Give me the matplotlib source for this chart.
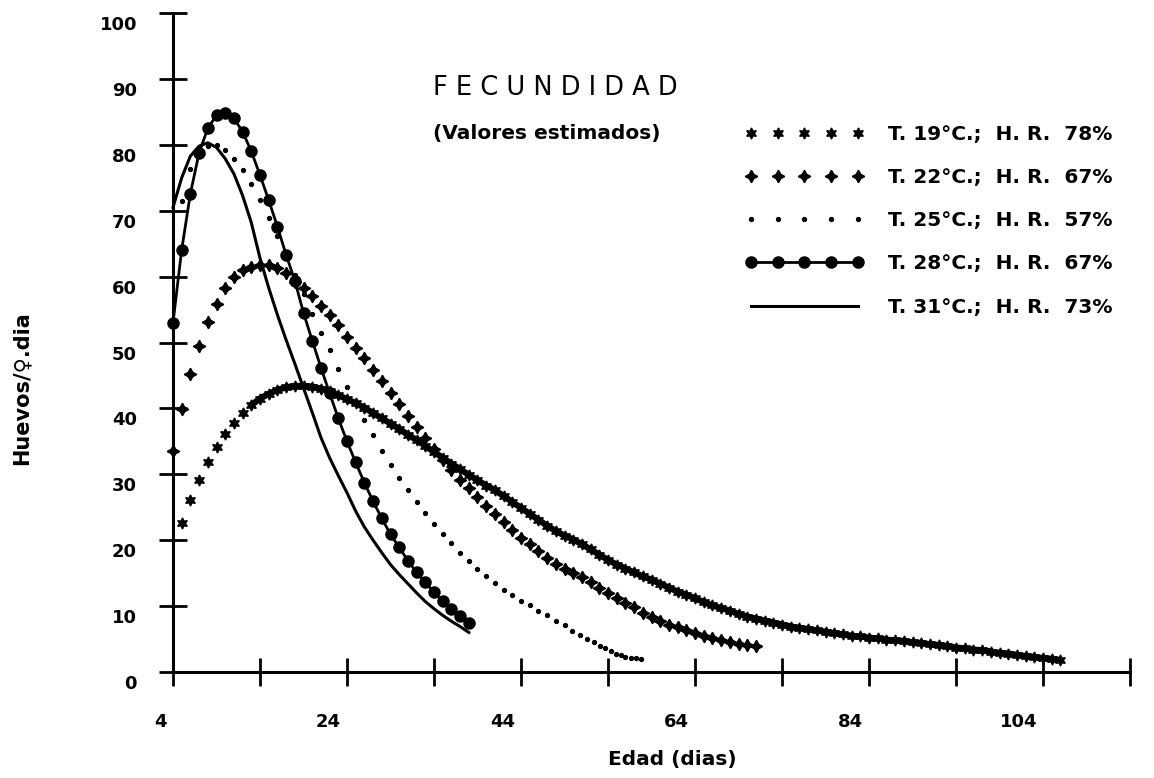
import matplotlib
matplotlib.use("Agg")
import matplotlib.pyplot as plt
from matplotlib.transforms import ScaledTranslation

# --- data (edad en dias, huevos/hembra.dia) ---
t19_days = list(range(5, 107))
t19_vals = [22.6, 26.1, 29.1, 31.8, 34.2, 36.1, 37.8, 39.3, 40.5, 41.5,
            42.2, 42.8, 43.2, 43.4, 43.4, 43.3, 43.0, 42.6, 42.0, 41.4,
            40.8, 40.1, 39.3, 38.5, 37.7, 36.9, 36.0, 35.2, 34.3, 33.4,
            32.5, 31.6, 30.8, 29.9, 29.1, 28.3, 27.6, 26.7, 25.8, 24.9,
            24.0, 23.1, 22.2, 21.4, 20.7, 20.1, 19.4, 18.6, 17.8, 17.0,
            16.3, 15.7, 15.1, 14.5, 14.0, 13.4, 12.8, 12.2, 11.7, 11.2,
            10.6, 10.1, 9.7, 9.3, 8.8, 8.4, 8.1, 7.8, 7.5, 7.2,
            6.9, 6.7, 6.5, 6.3, 6.1, 5.9, 5.7, 5.5, 5.4, 5.2,
            5.1, 4.9, 4.8, 4.7, 4.5, 4.4, 4.2, 4.1, 3.9, 3.7,
            3.6, 3.4, 3.3, 3.1, 2.9, 2.8, 2.6, 2.4, 2.3, 2.1,
            2.0, 1.8]

t22_days = list(range(4, 72))
t22_vals = [33.5, 39.9, 45.2, 49.5, 53.1, 55.9, 58.2, 59.9, 61.0, 61.5,
            61.8, 61.8, 61.3, 60.5, 59.2, 58.2, 57.1, 55.6, 54.2, 52.6,
            50.9, 49.2, 47.6, 45.8, 44.1, 42.3, 40.6, 38.9, 37.2, 35.5,
            33.8, 32.2, 30.7, 29.2, 27.9, 26.5, 25.2, 24.0, 22.7, 21.5,
            20.4, 19.4, 18.4, 17.3, 16.4, 15.6, 15.0, 14.4, 13.6, 12.8,
            12.0, 11.2, 10.5, 9.8, 8.9, 8.3, 7.8, 7.2, 6.8, 6.3,
            5.9, 5.5, 5.1, 4.8, 4.6, 4.3, 4.1, 3.9]

t25_days = list(range(5, 50)) + [49.9, 50.8, 51.6, 52.4, 53.1, 53.7, 54.3,
                                 54.9, 55.5, 56.0, 56.6, 57.2, 57.8]
t25_vals = [71.5, 76.3, 78.6, 79.8, 80.0, 79.2, 77.9, 76.2, 74.0, 71.6,
            68.9, 66.2, 63.3, 60.3, 57.4, 54.4, 51.5, 48.8, 46.0, 43.3,
            40.7, 38.2, 35.9, 33.6, 31.4, 29.5, 27.6, 25.8, 24.1, 22.4,
            20.9, 19.5, 18.1, 16.8, 15.7, 14.6, 13.5, 12.5, 11.7, 10.8,
            10.1, 9.3, 8.6, 7.8, 7.1,
            6.2, 5.6, 5.0, 4.5, 4.0, 3.6, 3.2, 2.8, 2.6, 2.3, 2.2, 2.1, 2.0]

t28_days = list(range(4, 39))
t28_vals = [53.0, 64.1, 72.6, 78.8, 82.5, 84.5, 84.9, 84.0, 82.0, 79.0,
            75.4, 71.6, 67.6, 63.3, 59.4, 54.5, 50.3, 46.2, 42.3, 38.5,
            35.0, 31.8, 28.7, 25.9, 23.3, 20.9, 18.9, 16.9, 15.1, 13.6,
            12.1, 10.7, 9.6, 8.5, 7.5]

t31_days = list(range(4, 39))
t31_vals = [70.5, 75.0, 78.3, 79.8, 80.3, 79.6, 77.9, 75.6, 72.3, 68.2,
            62.8, 58.3, 54.2, 50.4, 46.8, 43.1, 39.4, 35.6, 32.5, 29.8,
            27.2, 24.4, 22.0, 20.0, 18.1, 16.3, 14.8, 13.4, 12.0, 10.7,
            9.6, 8.6, 7.7, 6.9, 6.0]

series_labels = ["T. 19°C.;  H. R.  78%", "T. 22°C.;  H. R.  67%", "T. 25°C.;  H. R.  57%",
                 "T. 28°C.;  H. R.  67%", "T. 31°C.;  H. R.  73%"]

x_ticks = list(range(4, 115, 10))
x_tick_labels = {4: "4", 24: "24", 44: "44", 64: "64", 84: "84", 104: "104"}
y_ticks = list(range(0, 101, 10))

W, H = 1154, 778
fig = plt.figure(figsize=(W / 100, H / 100), dpi=100)
ax = fig.add_axes([173 / W, 1 - 672 / H, (1130 - 173) / W, (672 - 13) / H])
ax.set_xlim(4, 114)
ax.set_ylim(0, 100)

k = "black"
# T.19 : asterisks, dense enough to form a band
ax.plot(t19_days[8:], t19_vals[8:], color=k, lw=4.5, solid_capstyle="round", clip_on=False)
ax.plot(t19_days, t19_vals, ls="none", marker=(6, 1, 0), ms=8, color=k,
        label=series_labels[0], clip_on=False)
# T.22 : pluses
ax.plot(t22_days, t22_vals, ls="none", marker=(4, 1, 0), ms=9, color=k,
        label=series_labels[1], clip_on=False)
# T.25 : dots
ax.plot(t25_days, t25_vals, ls="none", marker="o", ms=2.8, color=k,
        label=series_labels[2], clip_on=False)
# T.28 : filled circles joined
ax.plot(t28_days, t28_vals, "-o", lw=2, ms=8, color=k,
        label=series_labels[3], clip_on=False)
# T.31 : solid line
ax.plot(t31_days, t31_vals, "-", lw=2.2, color=k,
        label=series_labels[4], clip_on=False)

for s in ["top", "right"]:
    ax.spines[s].set_visible(False)
for s in ["left", "bottom"]:
    ax.spines[s].set_linewidth(2.2)
ax.set_xticks(x_ticks)
ax.set_yticks(y_ticks)
ax.tick_params(direction="inout", length=20, width=2, labelbottom=False, labelleft=False)

dpi_t = fig.dpi_scale_trans
for v in x_ticks:
    if v in x_tick_labels:
        ax.text(v, 0, x_tick_labels[v], transform=ax.get_xaxis_transform() + ScaledTranslation(-0.06, -0.50, dpi_t),
                ha="right", va="center", fontsize=13, fontweight="bold")
for v in y_ticks:
    ax.text(0, v, str(v), transform=ax.get_yaxis_transform() + ScaledTranslation(-0.36, -0.12, dpi_t),
            ha="right", va="center", fontsize=13, fontweight="bold")

fig.text(433 / W, 1 - 88 / H, "F E C U N D I D A D", ha="left", va="center", fontsize=18.5)
fig.text(433 / W, 1 - 133 / H, "(Valores estimados)", ha="left", va="center", fontsize=14.5, fontweight="bold")
fig.text(672 / W, 1 - 760 / H, "Edad (dias)", ha="center", va="center", fontsize=14.5, fontweight="bold")
fig.text(21 / W, 1 - 388 / H, "Huevos/♀.dia", ha="center", va="center", rotation=90, fontsize=15, fontweight="bold")

ax.legend(loc="upper left", bbox_to_anchor=(745 / W, 1 - 125 / H), bbox_transform=fig.transFigure,
          frameon=False, numpoints=5, handlelength=5.9, handletextpad=1.2, labelspacing=1.2,
          borderpad=0, borderaxespad=0, prop={"size": 14.5, "weight": "bold"})

fig.savefig("out.png", dpi=100)
